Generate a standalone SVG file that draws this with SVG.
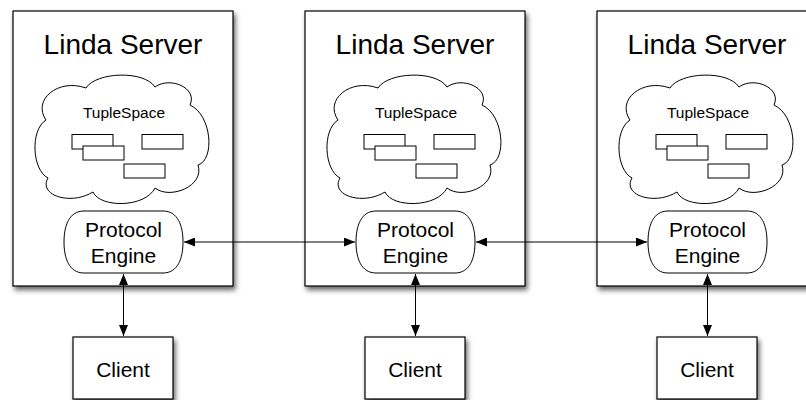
<svg xmlns="http://www.w3.org/2000/svg" xmlns:xlink="http://www.w3.org/1999/xlink" width="806" height="400" viewBox="0 0 806 400">
  <style>
    .box { fill: #fff; stroke: #000; stroke-width: 1.2; }
    .shadowed { filter: url(#shadow); }
    .outline { fill: #fff; stroke: #000; stroke-width: 1; }
    .tuple { fill: #fff; stroke: #000; stroke-width: 1; }
    .link { stroke: #000; stroke-width: 1; fill: none; marker-start: url(#arrow); marker-end: url(#arrow); }
    text { font-family: "Liberation Sans", Arial, Helvetica, sans-serif; fill: #000; text-anchor: middle; }
    .title { font-size: 28px; }
    .label { font-size: 21px; }
    .small { font-size: 15.5px; }
  </style>
  <defs>
    <filter id="shadow" x="-10%" y="-10%" width="125%" height="125%">
      <feDropShadow dx="2" dy="3.5" stdDeviation="2.4" flood-color="#000" flood-opacity="0.6"/>
    </filter>
    <marker id="arrow" viewBox="0 0 11 9" refX="11" refY="4.5" markerWidth="11" markerHeight="9" markerUnits="userSpaceOnUse" orient="auto-start-reverse">
      <path d="M0,0 L11,4.5 L0,9 Z" fill="#000"/>
    </marker>
    <!-- cloud outline for a tuple space -->
    <path id="cloud" d="M46,120 C32,100 58,78 86,88 C96,72 144,70 155,87 C170,76 198,88 190,105 C212,115 215,160 198,165 C205,186 170,200 155,188 C145,208 100,208 93,192 C70,206 38,195 48,178 C32,170 30,130 46,120 Z"/>
    <!-- stadium-like shape of the protocol engine -->
    <path id="engine" d="M84,211 H163 C178,211 183,226 183,242 C183,258 178,273 163,273 H84 C69,273 64,258 64,242 C64,226 69,211 84,211 Z"/>
    <g id="tuples">
      <rect class="tuple" x="72" y="134.5" width="41" height="14.5"/>
      <rect class="tuple" x="83" y="146" width="41" height="14"/>
      <rect class="tuple" x="142" y="134.5" width="41" height="14.5"/>
      <rect class="tuple" x="124" y="164" width="41" height="14"/>
    </g>
  </defs>

  <g id="server1">
    <rect class="box shadowed" x="13" y="11" width="220" height="275"/>
    <text class="title" x="123" y="54">Linda Server</text>
    <g id="tuplespace1">
      <use xlink:href="#cloud" class="outline"/>
      <text class="small" x="124" y="118">TupleSpace</text>
      <use xlink:href="#tuples"/>
    </g>
    <g id="engine1">
      <use xlink:href="#engine" class="outline"/>
      <text class="label" x="123.5" y="237">Protocol</text>
      <text class="label" x="123.5" y="263">Engine</text>
    </g>
  </g>

  <g id="server2" transform="translate(292,0)">
    <rect class="box shadowed" x="13" y="11" width="220" height="275"/>
    <text class="title" x="123" y="54">Linda Server</text>
    <g id="tuplespace2">
      <use xlink:href="#cloud" class="outline"/>
      <text class="small" x="124" y="118">TupleSpace</text>
      <use xlink:href="#tuples"/>
    </g>
    <g id="engine2">
      <use xlink:href="#engine" class="outline"/>
      <text class="label" x="123.5" y="237">Protocol</text>
      <text class="label" x="123.5" y="263">Engine</text>
    </g>
  </g>

  <g id="server3" transform="translate(584,0)">
    <rect class="box shadowed" x="13" y="11" width="220" height="275"/>
    <text class="title" x="123" y="54">Linda Server</text>
    <g id="tuplespace3">
      <use xlink:href="#cloud" class="outline"/>
      <text class="small" x="124" y="118">TupleSpace</text>
      <use xlink:href="#tuples"/>
    </g>
    <g id="engine3">
      <use xlink:href="#engine" class="outline"/>
      <text class="label" x="123.5" y="237">Protocol</text>
      <text class="label" x="123.5" y="263">Engine</text>
    </g>
  </g>

  <g id="client1">
    <rect class="box shadowed" x="73" y="337" width="100" height="62"/>
    <text class="label" x="123" y="377">Client</text>
  </g>
  <g id="client2">
    <rect class="box shadowed" x="365" y="337" width="100" height="62"/>
    <text class="label" x="415" y="377">Client</text>
  </g>
  <g id="client3">
    <rect class="box shadowed" x="657" y="337" width="100" height="62"/>
    <text class="label" x="707" y="377">Client</text>
  </g>

  <g id="connectors">
    <line class="link" x1="184" y1="242" x2="355" y2="242"/>
    <line class="link" x1="476" y1="242" x2="647" y2="242"/>
    <line class="link" x1="123.5" y1="274" x2="123.5" y2="336"/>
    <line class="link" x1="415.5" y1="274" x2="415.5" y2="336"/>
    <line class="link" x1="707.5" y1="274" x2="707.5" y2="336"/>
  </g>
</svg>
